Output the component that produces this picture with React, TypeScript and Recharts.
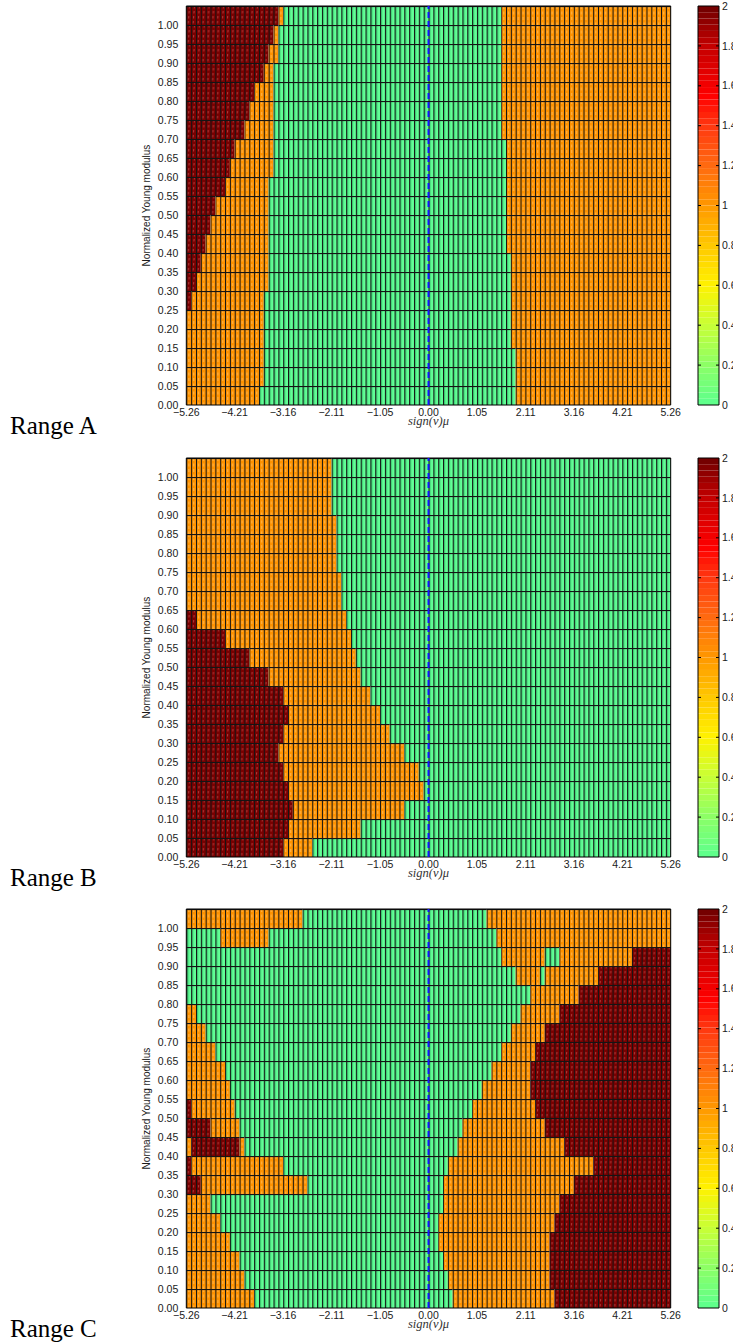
import React from 'react';
import { ScatterChart, Scatter, XAxis, YAxis, ReferenceArea } from 'recharts';

type Run = [number, number]; // [state, column where the run ends (exclusive)]

// Stability state of each (mu, E) cell: 0 = stable, 1 = intermediate, 2 = unstable.
// Rows run from the top band (E 1.00-1.05) down to the bottom band (E 0.00-0.05);
// each row is a list of runs over the 100 mu columns.
const rangeARows: Run[][] = [
  [[2, 19], [1, 20], [0, 65], [1, 100]],
  [[2, 18], [1, 19], [0, 65], [1, 100]],
  [[2, 17], [1, 19], [0, 65], [1, 100]],
  [[2, 16], [1, 18], [0, 65], [1, 100]],
  [[2, 14], [1, 18], [0, 65], [1, 100]],
  [[2, 13], [1, 18], [0, 65], [1, 100]],
  [[2, 12], [1, 18], [0, 65], [1, 100]],
  [[2, 10], [1, 18], [0, 66], [1, 100]],
  [[2, 9], [1, 18], [0, 66], [1, 100]],
  [[2, 8], [1, 17], [0, 66], [1, 100]],
  [[2, 6], [1, 17], [0, 66], [1, 100]],
  [[2, 5], [1, 17], [0, 66], [1, 100]],
  [[2, 4], [1, 17], [0, 66], [1, 100]],
  [[2, 3], [1, 17], [0, 67], [1, 100]],
  [[2, 2], [1, 17], [0, 67], [1, 100]],
  [[2, 1], [1, 16], [0, 67], [1, 100]],
  [[1, 16], [0, 67], [1, 100]],
  [[1, 16], [0, 67], [1, 100]],
  [[1, 16], [0, 68], [1, 100]],
  [[1, 16], [0, 68], [1, 100]],
  [[1, 15], [0, 68], [1, 100]],
];

const rangeBRows: Run[][] = [
  [[1, 30], [0, 100]],
  [[1, 30], [0, 100]],
  [[1, 30], [0, 100]],
  [[1, 31], [0, 100]],
  [[1, 31], [0, 100]],
  [[1, 31], [0, 100]],
  [[1, 32], [0, 100]],
  [[1, 32], [0, 100]],
  [[2, 2], [1, 33], [0, 100]],
  [[2, 8], [1, 34], [0, 100]],
  [[2, 13], [1, 35], [0, 100]],
  [[2, 17], [1, 36], [0, 100]],
  [[2, 20], [1, 38], [0, 100]],
  [[2, 21], [1, 40], [0, 100]],
  [[2, 20], [1, 42], [0, 100]],
  [[2, 19], [1, 45], [0, 100]],
  [[2, 20], [1, 48], [0, 100]],
  [[2, 21], [1, 49], [0, 100]],
  [[2, 22], [1, 45], [0, 100]],
  [[2, 21], [1, 36], [0, 100]],
  [[2, 20], [1, 26], [0, 100]],
];

const rangeCRows: Run[][] = [
  [[1, 24], [0, 62], [1, 100]],
  [[0, 7], [1, 17], [0, 64], [1, 100]],
  [[0, 65], [1, 74], [0, 77], [1, 92], [2, 100]],
  [[0, 68], [1, 73], [0, 74], [1, 85], [2, 100]],
  [[0, 71], [1, 81], [2, 100]],
  [[1, 2], [0, 69], [1, 77], [2, 100]],
  [[1, 4], [0, 67], [1, 74], [2, 100]],
  [[1, 6], [0, 65], [1, 72], [2, 100]],
  [[1, 8], [0, 63], [1, 71], [2, 100]],
  [[1, 9], [0, 61], [1, 71], [2, 100]],
  [[2, 1], [1, 10], [0, 59], [1, 72], [2, 100]],
  [[2, 5], [1, 11], [0, 57], [1, 74], [2, 100]],
  [[1, 1], [2, 11], [1, 12], [0, 56], [1, 78], [2, 100]],
  [[2, 1], [1, 20], [0, 54], [1, 84], [2, 100]],
  [[2, 3], [1, 25], [0, 53], [1, 80], [2, 100]],
  [[1, 5], [0, 53], [1, 77], [2, 100]],
  [[1, 7], [0, 52], [1, 76], [2, 100]],
  [[1, 9], [0, 52], [1, 75], [2, 100]],
  [[1, 11], [0, 53], [1, 75], [2, 100]],
  [[1, 12], [0, 54], [1, 75], [2, 100]],
  [[1, 14], [0, 55], [1, 76], [2, 100]],
];

const panelNames = ['Range A', 'Range B', 'Range C'];
const panelRows = [rangeARows, rangeBRows, rangeCRows];

const xTickLabels = ['\u22125.26', '\u22124.21', '\u22123.16', '\u22122.11', '\u22121.05', '0.00', '1.05', '2.11', '3.16', '4.21', '5.26'];
const yTickLabels = [
  '0.00', '0.05', '0.10', '0.15', '0.20', '0.25', '0.30', '0.35', '0.40', '0.45', '0.50',
  '0.55', '0.60', '0.65', '0.70', '0.75', '0.80', '0.85', '0.90', '0.95', '1.00',
];
const colorbarTickLabels = ['0', '0.2', '0.4', '0.6', '0.8', '1', '1.2', '1.4', '1.6', '1.8', '2'];

// colour of each state and the colormap shown in the colour bar
const stateColors = ['#62FF96', '#FF9300', '#7A0000'];
const colormapStops: [number, string][] = [
  [0.0, '#5CFF8E'],
  [0.2, '#8CFF66'],
  [0.4, '#C8FF36'],
  [0.6, '#FFF200'],
  [0.8, '#FFC800'],
  [1.0, '#FF9800'],
  [1.2, '#FF6A10'],
  [1.4, '#FF3810'],
  [1.55, '#FF0000'],
  [1.8, '#C40000'],
  [2.0, '#6E0000'],
];
const N_BANDS = 64;

// grid of the computation
const MU_MIN = -5.26;
const MU_MAX = 5.26;
const N_COLS = 100;
const E_STEP = 0.05;
const N_ROWS = 21;
const E_MAX = N_ROWS * E_STEP;
const muStep = (MU_MAX - MU_MIN) / N_COLS;
const muAt = (col: number) => MU_MIN + col * muStep;

const toNumber = (s: string) => parseFloat(s.replace('\u2212', '-'));
const xTicks = xTickLabels.map(toNumber);
const yTicks = yTickLabels.map(toNumber);
const cbTicks = colorbarTickLabels.map(toNumber);

const zeroLine = [
  { x: 0, y: 0 },
  { x: 0, y: E_MAX },
];

// layout
const SANS = "'Liberation Sans', Arial, Helvetica, sans-serif";
const SERIF = "'Liberation Serif', 'Times New Roman', serif";
const CHART_W = 690;
const CHART_H = 445;
const M_TOP = 6;
const PLOT_LEFT = 186.3;
const PLOT_W = 484.4;
const PLOT_H = 399;
const Y_AXIS_W = 50;
const X_AXIS_H = 28;
const chartMargin = {
  top: M_TOP,
  left: PLOT_LEFT - Y_AXIS_W,
  right: CHART_W - PLOT_LEFT - PLOT_W,
  bottom: CHART_H - M_TOP - PLOT_H - X_AXIS_H,
};
const PANEL_TOPS = [0, 451.7, 903];
const CELL_W = PLOT_W / N_COLS;
const CELL_H = PLOT_H / N_ROWS;

const CB_LEFT = 690.3;
const CB_CHART_W = 60;
const CB_BAR_W = 21;
const CB_AXIS_W = 25;
const CB_TICK_MARGIN = 3;

function hexToRgb(h: string) {
  return [1, 3, 5].map((i) => parseInt(h.slice(i, i + 2), 16));
}

function colormap(v: number) {
  for (let i = 1; i < colormapStops.length; i++) {
    const [v1, c1] = colormapStops[i];
    const [v0, c0] = colormapStops[i - 1];
    if (v <= v1) {
      const t = (v - v0) / (v1 - v0);
      const a = hexToRgb(c0);
      const b = hexToRgb(c1);
      const m = a.map((x, k) => Math.round(x + (b[k] - x) * t));
      return `rgb(${m[0]},${m[1]},${m[2]})`;
    }
  }
  return colormapStops[colormapStops.length - 1][1];
}

// one tile per cell: fill, a textured stripe, and the black cell edges
function CellPatterns() {
  return (
    <svg width={0} height={0} style={{ position: 'absolute', left: 0, top: 0 }}>
      <defs>
        {stateColors.map((c, s) => (
          <pattern
            key={s}
            id={`cell-${s}`}
            patternUnits="userSpaceOnUse"
            x={PLOT_LEFT}
            y={M_TOP}
            width={CELL_W}
            height={CELL_H}
          >
            <rect x={0} y={0} width={CELL_W} height={CELL_H} fill={c} />
            {s === 0 && <rect x={1} y={0} width={1.2} height={CELL_H} fill="#3CCB72" />}
            {s === 1 && (
              <line
                x1={CELL_W * 0.55}
                x2={CELL_W * 0.55}
                y1={0}
                y2={CELL_H}
                stroke="#FFC878"
                strokeWidth={0.7}
                strokeDasharray="3 2.5"
              />
            )}
            {s === 2 && (
              <line
                x1={CELL_W * 0.7}
                x2={CELL_W * 0.4}
                y1={0}
                y2={CELL_H}
                stroke="#E07A7A"
                strokeOpacity={0.85}
                strokeWidth={0.6}
                strokeDasharray="2.5 2.5"
              />
            )}
            <rect x={0} y={0} width={1} height={CELL_H} fill="#141414" />
            <rect x={0} y={0} width={CELL_W} height={1.1} fill="#141414" />
          </pattern>
        ))}
      </defs>
    </svg>
  );
}

const yLabel = (props: any) => {
  const vb = props.viewBox;
  const cx = vb.x + 10;
  const cy = vb.y + vb.height / 2;
  return (
    <text
      x={cx}
      y={cy}
      transform={`rotate(-90 ${cx} ${cy})`}
      textAnchor="middle"
      dominantBaseline="central"
      fontSize={10}
      fontFamily={SANS}
      fill="#1a1a1a"
    >
      Normalized Young modulus
    </text>
  );
};

const xLabel = (props: any) => {
  const vb = props.viewBox;
  return (
    <text
      x={vb.x + vb.width / 2}
      y={vb.y + 19.5}
      textAnchor="middle"
      fontSize={12.5}
      fontStyle="italic"
      fontFamily={SERIF}
      fill="#333"
    >
      sign(v)μ
    </text>
  );
};

function StatePanel({ rows, top }: { rows: Run[][]; top: number }) {
  const areas: React.ReactNode[] = [];
  rows.forEach((runs, i) => {
    const band = N_ROWS - 1 - i;
    let start = 0;
    runs.forEach(([state, end], j) => {
      areas.push(
        <ReferenceArea
          key={`c-${i}-${j}`}
          x1={muAt(start)}
          x2={muAt(end)}
          y1={band * E_STEP}
          y2={(band + 1) * E_STEP}
          fill={`url(#cell-${state})`}
          fillOpacity={1}
          stroke="none"
          ifOverflow="visible"
        />
      );
      start = end;
    });
  });

  return (
    <div style={{ position: 'absolute', left: 0, top }}>
      <ScatterChart width={CHART_W} height={CHART_H} margin={chartMargin}>
        <XAxis
          type="number"
          dataKey="x"
          domain={[MU_MIN, MU_MAX]}
          ticks={xTicks}
          interval={0}
          height={X_AXIS_H}
          axisLine={false}
          tickLine={false}
          tickSize={0}
          tickMargin={4}
          tickFormatter={(v: number) => xTickLabels[xTicks.indexOf(v)] ?? String(v)}
          tick={{ fontSize: 10.5, fill: '#1a1a1a', fontFamily: SANS }}
          label={xLabel}
        />
        <YAxis
          type="number"
          dataKey="y"
          domain={[0, E_MAX]}
          ticks={yTicks}
          interval={0}
          width={Y_AXIS_W}
          axisLine={false}
          tickLine={false}
          tickSize={0}
          tickMargin={8}
          tickFormatter={(v: number) => yTickLabels[yTicks.indexOf(v)] ?? String(v)}
          tick={{ fontSize: 10.5, fill: '#1a1a1a', fontFamily: SANS }}
          label={yLabel}
        />
        {areas}
        <ReferenceArea
          x1={MU_MIN}
          x2={MU_MAX}
          y1={0}
          y2={E_MAX}
          fill="none"
          stroke="#000"
          strokeWidth={1}
          ifOverflow="visible"
        />
        <Scatter
          data={zeroLine}
          fill="#1414FF"
          line={{ stroke: '#1414FF', strokeWidth: 2, strokeDasharray: '6 3' }}
          shape={() => <g />}
          isAnimationActive={false}
        />
      </ScatterChart>
    </div>
  );
}

const colorbarTick = (props: any) => {
  const { x, y, payload } = props;
  const i = cbTicks.indexOf(payload.value);
  const edge = x - CB_TICK_MARGIN;
  const inner = i > 0 && i < cbTicks.length - 1;
  return (
    <g>
      {inner && <line x1={edge - CB_BAR_W} x2={edge - CB_BAR_W + 3} y1={y} y2={y} stroke="#000" strokeWidth={1} />}
      {inner && <line x1={edge - 3} x2={edge} y1={y} y2={y} stroke="#000" strokeWidth={1} />}
      <text x={x} y={y} dy="0.35em" fontSize={10.5} fontFamily={SANS} fill="#1a1a1a">
        {colorbarTickLabels[i]}
      </text>
    </g>
  );
};

function Colorbar({ top }: { top: number }) {
  const bands: React.ReactNode[] = [];
  const step = 2 / N_BANDS;
  for (let k = 0; k < N_BANDS; k++) {
    bands.push(
      <ReferenceArea
        key={`b-${k}`}
        x1={0}
        x2={1}
        y1={k * step}
        y2={(k + 1) * step}
        fill={colormap((k + 0.5) * step)}
        fillOpacity={1}
        stroke="none"
        ifOverflow="visible"
      />
    );
  }
  return (
    <div style={{ position: 'absolute', left: CB_LEFT, top }}>
      <ScatterChart
        width={CB_CHART_W}
        height={M_TOP * 2 + PLOT_H}
        margin={{ top: M_TOP, bottom: M_TOP, left: 8, right: CB_CHART_W - 8 - CB_BAR_W - CB_AXIS_W }}
      >
        <XAxis type="number" dataKey="x" domain={[0, 1]} hide />
        <YAxis
          type="number"
          dataKey="y"
          orientation="right"
          domain={[0, 2]}
          ticks={cbTicks}
          interval={0}
          width={CB_AXIS_W}
          axisLine={false}
          tickLine={false}
          tickSize={0}
          tickMargin={CB_TICK_MARGIN}
          tick={colorbarTick}
        />
        {bands}
        <ReferenceArea x1={0} x2={1} y1={0} y2={2} fill="none" stroke="#000" strokeWidth={1} ifOverflow="visible" />
        <Scatter
          data={[
            { x: 0.5, y: 0 },
            { x: 0.5, y: 2 },
          ]}
          shape={() => <g />}
          isAnimationActive={false}
        />
      </ScatterChart>
    </div>
  );
}

export default function App() {
  return (
    <div
      style={{
        position: 'absolute',
        left: 0,
        top: 0,
        width: 733,
        height: 1343,
        overflow: 'hidden',
        background: '#fff',
      }}
    >
      <CellPatterns />
      {panelRows.map((rows, p) => (
        <React.Fragment key={p}>
          <StatePanel rows={rows} top={PANEL_TOPS[p]} />
          <Colorbar top={PANEL_TOPS[p]} />
          <div
            style={{
              position: 'absolute',
              left: 10,
              top: PANEL_TOPS[p] + 413,
              fontFamily: SERIF,
              fontSize: 25,
              lineHeight: '25px',
              color: '#000',
              whiteSpace: 'nowrap',
            }}
          >
            {panelNames[p]}
          </div>
        </React.Fragment>
      ))}
    </div>
  );
}
